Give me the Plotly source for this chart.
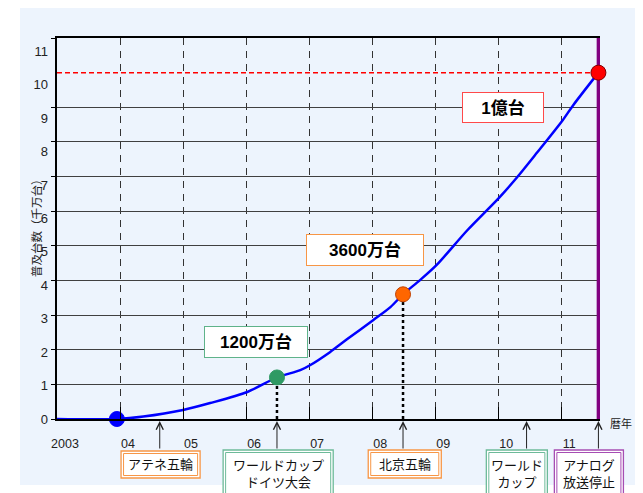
import plotly.graph_objects as go

# ---------------- data ----------------
curve_years = [2003.0, 2003.95, 2004.37, 2005.0, 2005.43, 2006.02, 2006.49, 2006.86,
               2007.02, 2007.33, 2007.60, 2008.02, 2008.29, 2008.49, 2008.76, 2009.02,
               2009.51, 2010.02, 2010.30, 2010.62, 2011.02, 2011.19, 2011.59]
curve_values = [0, 0, 0.07, 0.26, 0.46, 0.78, 1.2, 1.41,
                1.56, 1.93, 2.30, 2.86, 3.23, 3.6, 4.01, 4.44,
                5.45, 6.40, 6.98, 7.70, 8.62, 9.06, 10.0]

milestone_years = [2003.95, 2006.49, 2008.49, 2011.59]
milestone_values = [0, 1.2, 3.6, 10]
milestone_labels = ["", "1200万台", "3600万台", "1億台"]

target_value = 10

event_years = [2004.63, 2006.49, 2008.49, 2010.45, 2011.59]
event_labels = ["アテネ五輪", "ワールドカップ<br>ドイツ大会", "北京五輪", "ワールド<br>カップ", "アナログ<br>放送停止"]

x_tick_vals = [2003, 2004, 2005, 2006, 2007, 2008, 2009, 2010, 2011]
x_tick_text = ["2003", "04", "05", "06", "07", "08", "09", "10", "11"]
y_tick_vals = [0, 1, 2, 3, 4, 5, 6, 7, 8, 9, 10, 11]
y_tick_text = [str(v) for v in y_tick_vals]

y_title = "普及台数（千万台）"
x_unit = "暦年"

# ---------------- geometry helpers (page pixels) ----------------
OFF = 8                      # page body margin
PAGE_W, PAGE_H = 643, 493
W, H = PAGE_W - OFF, PAGE_H - OFF
L, R, T, B = 57, 599.6, 38, 419   # plot area in page pixels
PW, PH = R - L, B - T
X_END = 2011.615


def px(xp):
    return (xp - L) / PW


def py(yp):
    return (B - yp) / PH


FONT = "Liberation Sans, Arial, Noto Sans CJK JP, sans-serif"
BG = "#EDF4FD"

fig = go.Figure()

# invisible trace to carry the label axis
fig.add_trace(go.Scatter(x=[x_tick_vals[0]] * len(y_tick_vals), y=y_tick_vals, yaxis="y2",
                         mode="markers", marker=dict(opacity=0), hoverinfo="skip"))

# target line (1億台)
fig.add_trace(go.Scatter(x=[curve_years[0], curve_years[-1]], y=[target_value, target_value],
                         mode="lines", line=dict(color="#FF0000", width=1.5, dash="5px,3px"),
                         hoverinfo="skip", cliponaxis=False))

# purple line: analog shutdown
fig.add_trace(go.Scatter(x=[event_years[-1], event_years[-1]], y=[0, 11],
                         mode="lines", line=dict(color="#800080", width=3.5),
                         hoverinfo="skip", cliponaxis=False))

# drop lines under milestones
for xv, yv in zip(milestone_years[1:3], milestone_values[1:3]):
    fig.add_trace(go.Scatter(x=[xv, xv], y=[0, yv], mode="lines",
                             line=dict(color="#000000", width=2.5, dash="dot"),
                             hoverinfo="skip"))

# curve
fig.add_trace(go.Scatter(x=curve_years, y=curve_values, mode="lines",
                         line=dict(color="#0000FF", width=2.5, shape="spline", smoothing=0.8),
                         hoverinfo="skip", cliponaxis=False))

# milestone markers
marker_colors = ["#0000FF", "#2E9A63", "#FF6600", "#FF0000"]
marker_lines = ["#0000FF", "#2E9A63", "#C04000", "#800000"]
fig.add_trace(go.Scatter(x=milestone_years, y=milestone_values, mode="markers",
                         marker=dict(size=15, color=marker_colors,
                                     line=dict(color=marker_lines, width=1)),
                         hoverinfo="skip", cliponaxis=False))

annotations = []
shapes = []

# background
shapes.append(dict(type="rect", xref="paper", yref="paper", x0=px(20), x1=px(700),
                   y0=py(485), y1=py(5), fillcolor=BG, line=dict(width=0), layer="below"))

# upper value boxes (center px, size px, border colour)
value_boxes = [
    (1, 256, 342, 100, 28, "#5FB38A"),
    (2, 365, 250, 114, 28, "#F79646"),
    (3, 503, 107.5, 78, 27, "#FF4A4A"),
]
for idx, cx, cy, bw, bh, col in value_boxes:
    annotations.append(dict(xref="paper", yref="paper", x=px(cx), y=py(cy),
                            text="<b>%s</b>" % milestone_labels[idx], showarrow=False,
                            font=dict(size=17, color="#000000", family=FONT),
                            bgcolor="#FFFFFF", bordercolor=col, borderwidth=1, borderpad=1,
                            width=bw, height=bh, xanchor="center", yanchor="middle"))

# bottom event boxes: (x0, x1, y0, y1, colour)
event_boxes = [
    (121, 200, 451, 478, "#F79646"),
    (223, 333, 450, 505, "#6DBA99"),
    (368, 441, 450, 478, "#F79646"),
    (486, 547, 450, 505, "#6DBA99"),
    (554, 623, 450, 505, "#A64DB3"),
]
for (x0, x1, y0, y1, col), label, ev in zip(event_boxes, event_labels, event_years):
    shapes.append(dict(type="rect", xref="paper", yref="paper", x0=px(x0), x1=px(x1),
                       y0=py(y1), y1=py(y0), fillcolor="#FFFFFF",
                       line=dict(color=col, width=1.3), layer="above"))
    shapes.append(dict(type="rect", xref="paper", yref="paper", x0=px(x0 + 2.5), x1=px(x1 - 2.5),
                       y0=py(y1 - 2.5), y1=py(y0 + 2.5),
                       line=dict(color=col, width=1), layer="above"))
    two = "<br>" in label
    cy = 474 if two else 464.5
    annotations.append(dict(xref="paper", yref="paper", x=px((x0 + x1) / 2), y=py(cy),
                            text=label, showarrow=False, xanchor="center", yanchor="middle",
                            font=dict(size=13, color="#111111", family=FONT)))
    # arrow from box up to the axis
    annotations.append(dict(xref="x", yref="paper", x=ev, y=py(421), text="",
                            showarrow=True, ax=0, ay=29, arrowhead=5, arrowsize=1.4,
                            arrowwidth=1, arrowcolor="#222222", standoff=0))

# y title
annotations.append(dict(xref="paper", yref="paper", x=px(36), y=py(225), text=y_title,
                        textangle=-90, showarrow=False, xanchor="center", yanchor="middle",
                        font=dict(size=11.5, color="#222222", family=FONT)))
# x unit
annotations.append(dict(xref="paper", yref="paper", x=px(608), y=py(423), text=x_unit,
                        showarrow=False, xanchor="left", yanchor="middle",
                        font=dict(size=11, color="#222222", family=FONT)))

fig.update_layout(
    width=W, height=H,
    margin=dict(l=L - OFF, r=PAGE_W - R, t=T - OFF, b=PAGE_H - B, pad=0),
    paper_bgcolor="#FFFFFF", plot_bgcolor="rgba(0,0,0,0)",
    showlegend=False,
    font=dict(family=FONT, color="#222222"),
    xaxis=dict(range=[2003, X_END], tickvals=x_tick_vals, ticktext=x_tick_text,
               ticks="inside", ticklen=12, tickcolor="#000000", tickwidth=1,
               showline=True, linecolor="#000000", linewidth=1.5, mirror=True,
               showgrid=True, gridcolor="#333333", gridwidth=1, griddash="7px,6px",
               zeroline=False, ticklabelshift=8, ticklabelstandoff=12,
               tickfont=dict(size=12.5, color="#222222")),
    yaxis=dict(range=[0, 11], tickvals=[0, 1, 2, 3, 4, 5, 6, 7, 8, 9, 11],
               ticks="outside", ticklen=4, tickcolor="#000000",
               showticklabels=False, showline=True, linecolor="#000000", linewidth=1.5,
               showgrid=True, gridcolor="#404040", gridwidth=1, zeroline=False),
    yaxis2=dict(overlaying="y", side="left", range=[0, 11.4], tickvals=y_tick_vals,
                ticktext=y_tick_text, showgrid=False, showline=False, ticks="",
                zeroline=False, ticklabelstandoff=8,
                tickfont=dict(size=13, color="#222222")),
    annotations=annotations,
    shapes=shapes,
)

fig.write_html("out.html")
